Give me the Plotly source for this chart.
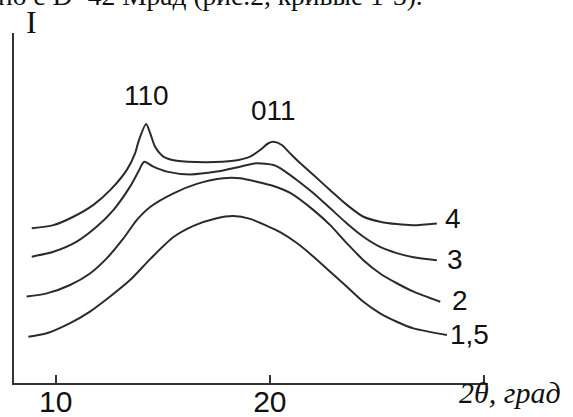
import plotly.graph_objects as go

# Diffraction patterns: 2θ (degrees) vs intensity (arbitrary units)
x4 = [8.88, 9.89, 10.82, 11.76, 12.54, 13.32, 13.71, 13.86, 14.22, 14.41, 14.64, 15.03,
      15.65, 17.06, 18.30, 19.08, 19.55, 19.93, 20.17, 20.56, 20.95, 21.26, 22.04, 22.82,
      23.60, 24.37, 25.15, 25.93, 26.71, 27.80]
y4 = [44.2, 45.1, 47.5, 50.9, 55.1, 60.9, 65.7, 68.9, 74.0, 71.4, 67.5, 64.7,
      63.5, 63.1, 63.5, 64.7, 66.6, 68.5, 68.9, 68.0, 65.6, 63.7, 59.4, 55.1,
      50.9, 47.5, 46.1, 45.4, 45.1, 45.6]

x3 = [8.88, 9.89, 10.98, 11.92, 12.69, 13.47, 13.86, 14.13, 14.56, 15.19, 16.28, 17.52,
      18.61, 19.39, 20.17, 20.48, 20.95, 21.26, 22.04, 22.82, 23.60, 24.37, 25.15, 25.93,
      26.71, 27.80]
y3 = [36.1, 37.5, 40.4, 44.7, 49.4, 56.1, 60.4, 63.2, 61.8, 60.4, 59.6, 60.4,
      61.8, 62.8, 62.3, 61.4, 59.4, 58.0, 54.2, 49.9, 45.6, 41.8, 38.9, 37.1,
      35.9, 35.1]

x2 = [8.64, 9.58, 10.67, 11.60, 12.38, 13.16, 13.79, 14.41, 15.50, 16.59, 17.83, 18.61,
      19.39, 20.17, 20.95, 22.04, 22.82, 23.60, 24.37, 25.15, 25.93, 26.71, 27.96]
y2 = [24.7, 25.6, 28.0, 31.3, 35.6, 41.3, 46.6, 50.3, 54.2, 56.9, 58.5, 58.5,
      57.5, 56.3, 54.3, 49.4, 45.1, 39.9, 35.1, 31.3, 28.5, 26.1, 23.2]

x15 = [8.72, 9.58, 10.67, 11.60, 12.54, 13.47, 14.41, 15.50, 16.43, 17.52, 18.30, 19.08,
       19.86, 20.48, 21.26, 22.04, 22.82, 23.60, 24.37, 25.15, 25.93, 26.71, 28.27]
y15 = [13.2, 14.2, 17.1, 20.4, 24.7, 29.4, 35.4, 41.7, 44.9, 47.1, 47.7, 46.9,
       44.9, 43.1, 40.0, 36.1, 31.8, 27.5, 23.2, 19.9, 17.5, 15.6, 13.7]

curve_names = ["4", "3", "2", "1,5"]
tick_vals = [10, 20, 30]
tick_text = ["10", "20", ""]
peak_labels = ["110", "011"]

curves = [(x4, y4), (x3, y3), (x2, y2), (x15, y15)]
line_col = "#2b2b2b"

fig = go.Figure()
for (xs, ys), name in zip(curves, curve_names):
    fig.add_trace(go.Scatter(x=xs, y=ys, mode="lines", name=name,
                             line=dict(color=line_col, width=2, shape="spline", smoothing=0.7),
                             showlegend=False, hoverinfo="skip"))

ann = []
# curve numbers at the right-hand ends
shifts = [(6, 5), (8, 1), (10, 1), (1, 1)]
for (xs, ys), name, (dx, dy) in zip(curves, curve_names, shifts):
    ann.append(dict(x=xs[-1], y=ys[-1], xref="x", yref="y", text=name, showarrow=False,
                    xanchor="left", yanchor="middle", xshift=dx, yshift=dy,
                    font=dict(family="Liberation Sans, Arial", size=28, color="#111")))

# reflection indices above the two peaks of the top curve
i110 = max(range(len(x4)), key=lambda i: y4[i] if x4[i] < 17 else -1)
i011 = max(range(len(x4)), key=lambda i: y4[i] if x4[i] > 18 else -1)
for idx, lab, dy in [(i110, peak_labels[0], 29), (i011, peak_labels[1], 31)]:
    ann.append(dict(x=x4[idx], y=y4[idx], xref="x", yref="y", text=lab, showarrow=False,
                    xanchor="center", yanchor="middle", yshift=dy,
                    font=dict(family="Liberation Sans, Arial", size=28, color="#111")))

# axis titles
ann.append(dict(x=0.036, y=1.031, xref="paper", yref="paper", text="I", showarrow=False,
                xanchor="center", yanchor="middle",
                font=dict(family="Liberation Serif, Times New Roman", size=32, color="#111")))
ann.append(dict(x=0.935, y=-0.028, xref="paper", yref="paper", text="<i>2θ, град</i>",
                showarrow=False, xanchor="left", yanchor="middle",
                font=dict(family="Liberation Serif, Times New Roman", size=30, color="#111")))
# running text line of the page above the figure
ann.append(dict(x=0.868, y=1.108, xref="paper", yref="paper",
                text="но с D=42 Мрад (рис.2, кривые 1-3).", showarrow=False,
                xanchor="right", yanchor="middle",
                font=dict(family="Liberation Serif, Times New Roman", size=27.5, color="#111")))

fig.update_layout(
    width=573, height=417,
    margin=dict(l=14, r=85, t=33, b=34, autoexpand=False),
    paper_bgcolor="white", plot_bgcolor="white",
    annotations=ann,
    xaxis=dict(range=[8.05, 30.19], showgrid=False, zeroline=False, showline=True,
               automargin=False, ticklabelstandoff=-9,
               linecolor="#333", linewidth=2, ticks="inside", ticklen=8, tickwidth=2,
               tickcolor="#333", tickvals=tick_vals, ticktext=tick_text,
               tickfont=dict(family="Liberation Sans, Arial", size=30, color="#111")),
    yaxis=dict(range=[0, 100], showgrid=False, zeroline=False, showline=True,
               automargin=False,
               linecolor="#333", linewidth=2, showticklabels=False, ticks=""),
)

fig.write_html("out.html")
